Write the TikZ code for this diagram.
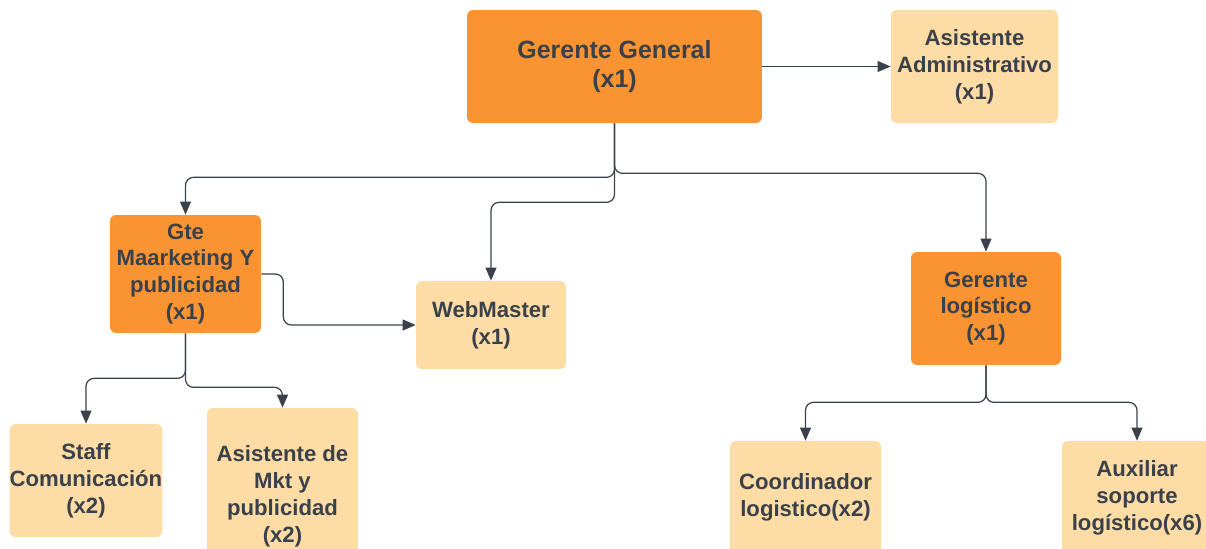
\documentclass[tikz,border=0pt]{standalone}
\usepackage{fontspec}
\setmainfont{Liberation Sans}
\usepackage{xcolor}
\usetikzlibrary{positioning,arrows.meta}
\definecolor{jefe}{HTML}{FA9432}
\definecolor{apoyo}{HTML}{FEDCA6}
\definecolor{tinta}{HTML}{3A414A}

\begin{document}
\begin{tikzpicture}[x=0.02cm, y=-0.02cm,
    caja/.style={rounded corners=0.12cm, align=center, text=tinta, inner sep=0pt,
      font=\bfseries\fontsize{12.6}{15.3}\selectfont},
    jefe/.style={caja, fill=jefe},
    apoyo/.style={caja, fill=apoyo},
    conn/.style={draw=tinta, line width=0.7pt, rounded corners=0.16cm,
      -{Triangle[length=7.4pt, width=6.2pt]}}]
  \useasboundingbox (0,0) rectangle (1206,548);

  \node[jefe, minimum width=5.9cm, minimum height=2.26cm,
    font=\bfseries\fontsize{14.2}{17}\selectfont] (gg) at (614.5,66.5) {Gerente General\\(x1)};
  \node[apoyo, minimum width=3.34cm, minimum height=2.26cm] (asis) at (974.5,66.5) {Asistente\\Administrativo\\(x1)};

  \node[jefe, minimum width=3.02cm, minimum height=2.36cm] (mkt) at (185.5,274) {Gte\\Maarketing Y\\publicidad\\(x1)};
  \node[apoyo, minimum width=3.0cm, minimum height=1.76cm] (web) at (491,325) {WebMaster\\(x1)};
  \node[jefe, minimum width=3.0cm, minimum height=2.26cm] (log) at (986,308.5) {Gerente\\logístico\\(x1)};

  \node[apoyo, minimum width=3.0cm, minimum height=2.26cm] (staff) at (86,480.5) {Staff\\Comunicación\\(x2)};
  \node[apoyo, minimum width=3.02cm, minimum height=3.52cm] (asmkt) at (282.5,496) {Asistente de\\Mkt y\\publicidad\\(x2)};
  \node[apoyo, minimum width=3.02cm, minimum height=2.26cm] (coord) at (805.5,497.5) {Coordinador\\logistico(x2)};
  \node[apoyo, minimum width=3.0cm, minimum height=2.26cm] (aux) at (1137,497.5) {Auxiliar\\soporte\\logístico(x6)};

  % gerente general
  \draw[conn] (gg.east) -- (asis.west);
  \draw[conn] (gg.south) -- ++(0,54) -| (mkt.north);
  \draw[conn] (gg.south) -- ++(0,79) -| (web.north);
  \draw[conn] (gg.south) -- ++(0,50) -| (log.north);

  % marketing
  \draw[conn] (mkt.east) -- ++(22,0) |- (web.west);
  \draw[conn] (mkt.south) -- ++(0,45) -| (staff.north);
  \draw[conn] (mkt.south) -- ++(0,54) -| (asmkt.north);

  % logistica
  \draw[conn] (log.south) -- ++(0,37) -| (coord.north);
  \draw[conn] (log.south) -- ++(0,37) -| (aux.north);
\end{tikzpicture}
\end{document}
